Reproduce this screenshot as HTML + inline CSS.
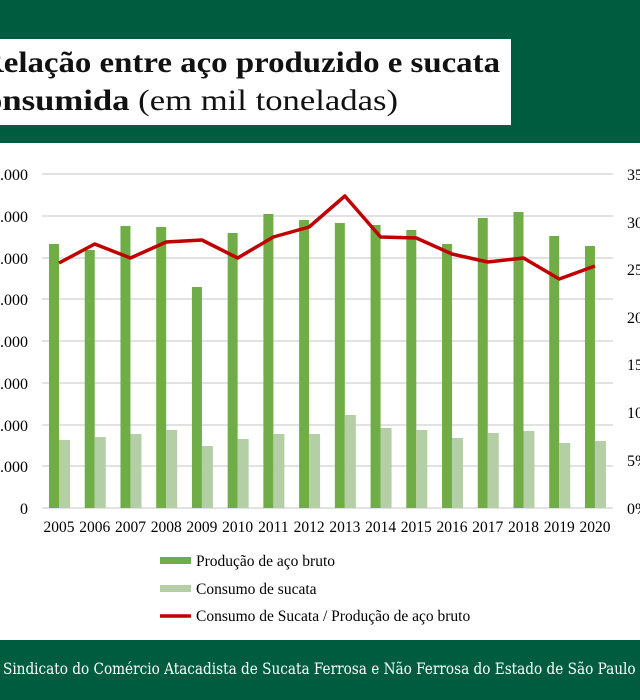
<!DOCTYPE html>
<html><head><meta charset="utf-8"><style>
html,body{margin:0;padding:0;width:640px;height:700px;overflow:hidden;background:#fff}
</style></head><body>
<svg width="640" height="700" xmlns="http://www.w3.org/2000/svg">
<rect x="0" y="0" width="640" height="143" fill="#005c3f"/>
<rect x="0" y="39" width="511" height="86" fill="#fff"/>
<text x="-20" y="72" font-family="Liberation Serif, serif" font-weight="bold" font-size="30" fill="#111" textLength="520" lengthAdjust="spacingAndGlyphs">Relação entre aço produzido e sucata</text>
<text x="-40" y="110" font-family="Liberation Serif, serif" font-size="30" fill="#111" textLength="438" lengthAdjust="spacingAndGlyphs"><tspan font-weight="bold">Consumida</tspan> (em mil toneladas)</text>
<g stroke="#d9d9d9" stroke-width="1.5">
<line x1="42" x2="613" y1="174" y2="174"/><line x1="42" x2="613" y1="216" y2="216"/><line x1="42" x2="613" y1="258" y2="258"/><line x1="42" x2="613" y1="299" y2="299"/><line x1="42" x2="613" y1="341" y2="341"/><line x1="42" x2="613" y1="383" y2="383"/><line x1="42" x2="613" y1="425" y2="425"/><line x1="42" x2="613" y1="466" y2="466"/><line x1="42" x2="613" y1="508" y2="508"/>
</g>
<g font-family="Liberation Serif, serif" font-size="16" fill="#000" text-anchor="end">
<text x="28" y="180">40.000</text><text x="28" y="222">35.000</text><text x="28" y="264">30.000</text><text x="28" y="305">25.000</text><text x="28" y="347">20.000</text><text x="28" y="389">15.000</text><text x="28" y="431">10.000</text><text x="28" y="472">5.000</text><text x="28" y="514">0</text>
</g>
<g font-family="Liberation Serif, serif" font-size="16" fill="#000">
<text x="627" y="180">35%</text><text x="627" y="228">30%</text><text x="627" y="275">25%</text><text x="627" y="323">20%</text><text x="627" y="370">15%</text><text x="627" y="418">10%</text><text x="627" y="466">5%</text><text x="627" y="514">0%</text>
</g>
<g id="bars"></g>
<g font-family="Liberation Serif, serif" font-size="15.5" fill="#000" text-anchor="middle" id="years"></g>
<polyline id="line" fill="none" stroke="#c00000" stroke-width="3.5" stroke-linejoin="round" points=""/>
<rect x="160" y="557" width="31" height="7" fill="#70ad47"/>
<text x="196" y="566" font-family="Liberation Serif, serif" font-size="15.5">Produção de aço bruto</text>
<rect x="160" y="585" width="31" height="7" fill="#b4cfa5"/>
<text x="196" y="594" font-family="Liberation Serif, serif" font-size="15.5">Consumo de sucata</text>
<line x1="160" x2="191" y1="616" y2="616" stroke="#c00000" stroke-width="3.5"/>
<text x="196" y="621" font-family="Liberation Serif, serif" font-size="15.5">Consumo de Sucata / Produção de aço bruto</text>
<rect x="0" y="640" width="640" height="60" fill="#005c3f"/>
<text x="3" y="674" font-family="DejaVu Serif Condensed, Liberation Serif, serif" font-size="15.5" fill="#fff" textLength="720" lengthAdjust="spacingAndGlyphs">Sindicato do Comércio Atacadista de Sucata Ferrosa e Não Ferrosa do Estado de São Paulo (Sindinesfa)</text>
</svg>
<script>
var g=[244,250,226,227,287,233,214,220,223,225,230,244,218,212,236,246];
var l=[440,437,434,430,446,439,434,434,415,428,430,438,433,431,443,441];
var r=[263,244,258,242,240,258,237,227,196,237,238,254,262,258,279,266];
var ns="http://www.w3.org/2000/svg",b=document.getElementById('bars'),y=document.getElementById('years'),pts=[];
for(var i=0;i<16;i++){var c=59+i*35.73;
var a=document.createElementNS(ns,'rect');a.setAttribute('x',c-10);a.setAttribute('y',g[i]);a.setAttribute('width',10);a.setAttribute('height',508-g[i]);a.setAttribute('fill','#70ad47');b.appendChild(a);
var d=document.createElementNS(ns,'rect');d.setAttribute('x',c);d.setAttribute('y',l[i]);d.setAttribute('width',11);d.setAttribute('height',508-l[i]);d.setAttribute('fill','#b4cfa5');b.appendChild(d);
var t=document.createElementNS(ns,'text');t.setAttribute('x',c);t.setAttribute('y',532);t.textContent=2005+i;y.appendChild(t);
pts.push(c+','+r[i]);}
document.getElementById('line').setAttribute('points',pts.join(' '));
</script>
</body></html>
